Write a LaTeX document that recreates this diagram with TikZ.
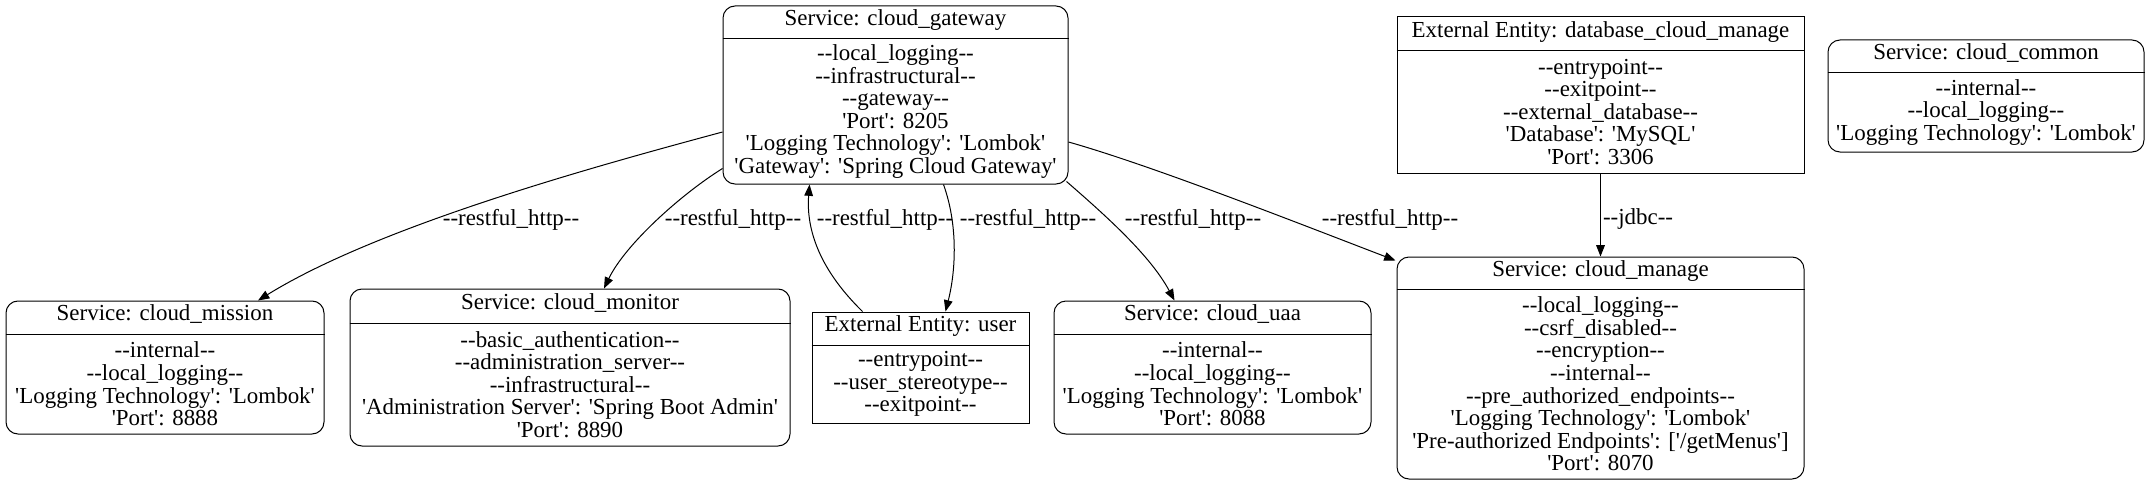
\documentclass[tikz,border=0pt]{standalone}
\usepackage{fontspec}
\setmainfont{Liberation Serif}[Ligatures=TeXOff]
\usetikzlibrary{arrows.meta,calc,fit}
\tikzset{
  body/.style={font=\fontsize{17.2}{16.9}\selectfont, inner sep=0pt, align=center},
  lbl/.style={font=\fontsize{17.2}{16.9}\selectfont, inner sep=0pt, text height=0.7em, text depth=0.2em},
  svcbox/.style={draw, line width=0.75pt, rounded corners=9pt},
  extbox/.style={draw, line width=0.75pt},
  sepline/.style={line width=0.75pt},
  flow/.style={line width=0.75pt, -{Triangle[length=8.5pt,width=6.5pt]}},
}
% #1 name, #2 style, #3 x1, #4 y1, #5 x2, #6 y2, #7 separator y, #8 title, #9 body
\newcommand\dfdbox[9]{%
  \node[fit={(#3,#4) (#5,#6)}, inner sep=0pt, #2] (#1) {};
  \draw[sepline] (#1.west |- 0,#7) -- (#1.east |- 0,#7);
  \node[lbl] (#1-title) at ({(#3+#5)/2},{(#4+#7)/2}) {#8};
  \node[body] (#1-body) at ({(#3+#5)/2},{(#7+#6)/2}) {#9};
}
\begin{document}
\begin{tikzpicture}[x=0.75pt,y=-0.75pt]
\fill[white] (0,0) rectangle (2148,485);
\useasboundingbox (0,0) rectangle (2148,485);

\dfdbox{gw}{svcbox}{723}{6}{1068}{184}{39}{Service: cloud\_gateway}%
  {--local\_logging--\\--infrastructural--\\--gateway--\\'Port': 8205\\'Logging Technology': 'Lombok'\\'Gateway': 'Spring Cloud Gateway'}
\dfdbox{db}{extbox}{1397}{17}{1804}{173}{51}{External Entity: database\_cloud\_manage}%
  {--entrypoint--\\--exitpoint--\\--external\_database--\\'Database': 'MySQL'\\'Port': 3306}
\dfdbox{cm}{svcbox}{1828}{40}{2144}{152}{73}{Service: cloud\_common}%
  {--internal--\\--local\_logging--\\'Logging Technology': 'Lombok'}
\dfdbox{ms}{svcbox}{6}{301}{324}{434}{334}{Service: cloud\_mission}%
  {--internal--\\--local\_logging--\\'Logging Technology': 'Lombok'\\'Port': 8888}
\dfdbox{mn}{svcbox}{350}{289}{790}{446}{323}{Service: cloud\_monitor}%
  {--basic\_authentication--\\--administration\_server--\\--infrastructural--\\'Administration Server': 'Spring Boot Admin'\\'Port': 8890}
\dfdbox{us}{extbox}{812}{312}{1029}{423}{345}{External Entity: user}%
  {--entrypoint--\\--user\_stereotype--\\--exitpoint--}
\dfdbox{ua}{svcbox}{1054}{301}{1371}{434}{334}{Service: cloud\_uaa}%
  {--internal--\\--local\_logging--\\'Logging Technology': 'Lombok'\\'Port': 8088}
\dfdbox{mg}{svcbox}{1397}{257}{1804}{479}{289}{Service: cloud\_manage}%
  {--local\_logging--\\--csrf\_disabled--\\--encryption--\\--internal--\\--pre\_authorized\_endpoints--\\'Logging Technology': 'Lombok'\\'Pre-authorized Endpoints': ['/getMenus']\\'Port': 8070}

% connectors
\draw[flow] ($(gw.west)+(0,37)$) .. controls (600,165) and (380,225) .. ($(ms.north)+(93,0)$);
\draw[flow] ($(gw.south west)+(0,-16)$) .. controls (680,195) and (625,245) .. ($(mn.north)+(34,0)$);
\draw[flow] ($(us.north)+(-58,0)$) .. controls (820,270) and (806,230) .. ($(gw.south)+(-86,0)$);
\draw[flow] ($(gw.south)+(48,0)$) .. controls (958,225) and (956,270) .. ($(us.north)+(25,0)$);
\draw[flow] ($(gw.south east)+(-2,-3)$) .. controls (1105,215) and (1150,255) .. ($(ua.north)+(-38,0)$);
\draw[flow] ($(gw.east)+(0,47)$) .. controls (1150,165) and (1290,220) .. ($(mg.north west)+(-1,4)$);
\draw[flow] (db.south) -- (mg.north);

% connector labels
\node[lbl] (l1) at (511,222) {--restful\_http--};
\node[lbl] (l2) at (733,222) {--restful\_http--};
\node[lbl] (l3) at (885,222) {--restful\_http--};
\node[lbl] (l4) at (1028,222) {--restful\_http--};
\node[lbl] (l5) at (1193,222) {--restful\_http--};
\node[lbl] (l6) at (1390,222) {--restful\_http--};
\node[lbl] (l7) at (1638,221) {--jdbc--};
\end{tikzpicture}
\end{document}
